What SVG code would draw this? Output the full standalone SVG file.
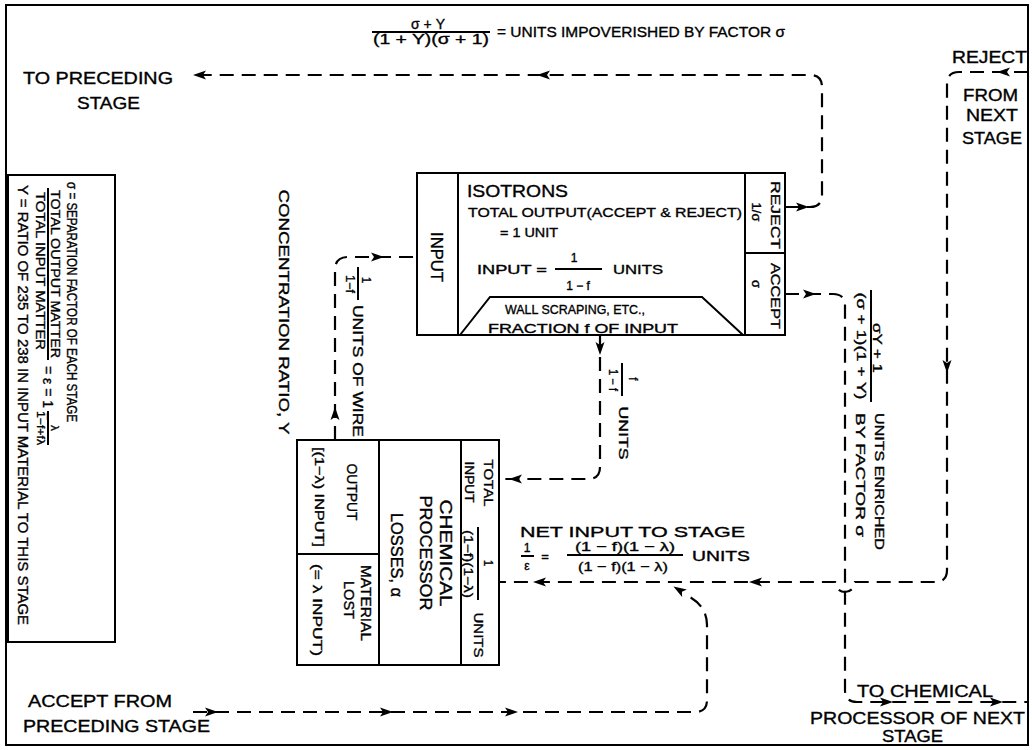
<svg xmlns="http://www.w3.org/2000/svg" width="1032" height="750" viewBox="0 0 1032 750">
<style>
.t{font-family:"Liberation Sans",Arial,sans-serif;fill:#000;stroke:#000;stroke-width:0.35}
.ln{fill:none;stroke:#000;stroke-width:2}
.dl{fill:none;stroke:#000;stroke-width:2.2;stroke-dasharray:14 8}
</style>
<defs>
<path id="ah" d="M3,0 L-10,-4.5 L-7,0 L-10,4.5 Z" fill="#000"/>
</defs>
<rect width="1032" height="750" fill="#fff"/>
<rect id="frame" x="6" y="5" width="1022" height="740" class="ln"/>

<g id="legend">
<rect x="8" y="175" width="107" height="467" class="ln"/>
<text class="t" font-size="14" text-anchor="middle" transform="translate(67,302) rotate(90)" textLength="240" lengthAdjust="spacingAndGlyphs">σ = SEPARATION FACTOR OF EACH STAGE</text>
<text class="t" font-size="13" text-anchor="middle" transform="translate(51,274) rotate(90)" textLength="168" lengthAdjust="spacingAndGlyphs">TOTAL OUTPUT MATTER</text>
<line x1="48" y1="188" x2="48" y2="360" class="ln" stroke-width="1.5"/>
<text class="t" font-size="13" text-anchor="middle" transform="translate(36,271) rotate(90)" textLength="158" lengthAdjust="spacingAndGlyphs">TOTAL INPUT MATTER</text>
<text class="t" font-size="14" transform="translate(43,366) rotate(90)">= ε = 1 −</text>
<text class="t" font-size="11" text-anchor="middle" transform="translate(51,428) rotate(90)">λ</text>
<line x1="48" y1="411" x2="48" y2="445" class="ln" stroke-width="1.5"/>
<text class="t" font-size="11" text-anchor="middle" transform="translate(37,428) rotate(90)" textLength="34" lengthAdjust="spacingAndGlyphs">1−f+fλ</text>
<text class="t" font-size="14" text-anchor="middle" transform="translate(18,405) rotate(90)" textLength="440" lengthAdjust="spacingAndGlyphs">Y = RATIO OF 235 TO 238 IN INPUT MATERIAL TO THIS STAGE</text>
</g>

<g id="isotrons">
<rect x="417" y="173" width="368" height="162" class="ln"/>
<line x1="458" y1="173" x2="458" y2="335" class="ln"/>
<line x1="745" y1="173" x2="745" y2="335" class="ln"/>
<line x1="745" y1="253" x2="785" y2="253" class="ln"/>
<polyline points="460,335 490,297 702,297 743,335" class="ln"/>
<text class="t" font-size="16" text-anchor="middle" transform="translate(431,257) rotate(90)" textLength="50" lengthAdjust="spacingAndGlyphs">INPUT</text>
<text class="t" x="467" y="197" font-size="17" textLength="101" lengthAdjust="spacingAndGlyphs">ISOTRONS</text>
<text class="t" x="468" y="217" font-size="13.5" textLength="274" lengthAdjust="spacingAndGlyphs">TOTAL OUTPUT(ACCEPT &amp; REJECT)</text>
<text class="t" x="500" y="237" font-size="13" textLength="58" lengthAdjust="spacingAndGlyphs">= 1 UNIT</text>
<text class="t" x="477" y="274" font-size="13" textLength="70" lengthAdjust="spacingAndGlyphs">INPUT =</text>
<text class="t" x="574" y="262" font-size="12" text-anchor="middle">1</text>
<line x1="555" y1="269" x2="602" y2="269" class="ln" stroke-width="1.5"/>
<text class="t" x="578" y="290" font-size="12" text-anchor="middle">1 − f</text>
<text class="t" x="613" y="274" font-size="13" textLength="50" lengthAdjust="spacingAndGlyphs">UNITS</text>
<text class="t" x="505" y="314" font-size="13" textLength="140" lengthAdjust="spacingAndGlyphs">WALL SCRAPING, ETC.,</text>
<text class="t" x="488" y="333" font-size="13" textLength="190" lengthAdjust="spacingAndGlyphs">FRACTION f OF INPUT</text>
<text class="t" font-size="13" text-anchor="middle" transform="translate(771,215) rotate(90)" textLength="68" lengthAdjust="spacingAndGlyphs">REJECT</text>
<text class="t" font-size="13" text-anchor="middle" transform="translate(752,212) rotate(90)">1/σ</text>
<text class="t" font-size="13" text-anchor="middle" transform="translate(771,296) rotate(90)" textLength="66" lengthAdjust="spacingAndGlyphs">ACCEPT</text>
<text class="t" font-size="13" text-anchor="middle" transform="translate(752,284) rotate(90)">σ</text>
</g>

<g id="chem">
<rect x="297" y="440" width="202" height="225" class="ln"/>
<line x1="379" y1="440" x2="379" y2="665" class="ln"/>
<line x1="461" y1="440" x2="461" y2="665" class="ln"/>
<line x1="297" y1="554" x2="379" y2="554" class="ln"/>
<text class="t" font-size="15" text-anchor="middle" transform="translate(347,492) rotate(90)" textLength="57" lengthAdjust="spacingAndGlyphs">OUTPUT</text>
<text class="t" font-size="13" text-anchor="middle" transform="translate(315,497) rotate(90)" textLength="100" lengthAdjust="spacingAndGlyphs">[(1−λ) INPUT]</text>
<text class="t" font-size="14" text-anchor="middle" transform="translate(361,603) rotate(90)" textLength="76" lengthAdjust="spacingAndGlyphs">MATERIAL</text>
<text class="t" font-size="14" text-anchor="middle" transform="translate(344,600) rotate(90)" textLength="38" lengthAdjust="spacingAndGlyphs">LOST</text>
<text class="t" font-size="13" text-anchor="middle" transform="translate(313,610) rotate(90)" textLength="92" lengthAdjust="spacingAndGlyphs">(= λ INPUT)</text>
<text class="t" font-size="16" text-anchor="middle" transform="translate(440,553) rotate(90)" textLength="107" lengthAdjust="spacingAndGlyphs">CHEMICAL</text>
<text class="t" font-size="16" text-anchor="middle" transform="translate(420,553) rotate(90)" textLength="115" lengthAdjust="spacingAndGlyphs">PROCESSOR</text>
<text class="t" font-size="16" text-anchor="middle" transform="translate(391,555) rotate(90)" textLength="84" lengthAdjust="spacingAndGlyphs">LOSSES, α</text>
<text class="t" font-size="12" text-anchor="middle" transform="translate(484,483) rotate(90)" textLength="47" lengthAdjust="spacingAndGlyphs">TOTAL</text>
<text class="t" font-size="12" text-anchor="middle" transform="translate(465,482) rotate(90)" textLength="41" lengthAdjust="spacingAndGlyphs">INPUT</text>
<text class="t" font-size="12" text-anchor="middle" transform="translate(484,563) rotate(90)">1</text>
<line x1="478" y1="527" x2="478" y2="600" class="ln" stroke-width="1.5"/>
<text class="t" font-size="12" text-anchor="middle" transform="translate(464,564) rotate(90)" textLength="68" lengthAdjust="spacingAndGlyphs">(1−f)(1−λ)</text>
<text class="t" font-size="12" text-anchor="middle" transform="translate(474,635) rotate(90)" textLength="45" lengthAdjust="spacingAndGlyphs">UNITS</text>
</g>

<g id="connectors">
<path class="dl" d="M785,207 H810 Q822,207 822,195 V87 Q822,75 810,75 H195"/>
<path class="dl" d="M785,294 H833 Q845,294 845,306 V690 Q845,702 857,702 H1028"/>
<path class="dl" d="M1028,72 H959 Q947,72 947,84 V570 Q947,582 935,582 H855 A10,10 0 0 1 835,582 H499"/>
<path class="dl" d="M193,712 H695 Q707,712 707,700 V625 Q707,606 688,596"/>
<path class="dl" d="M600,335 V467 Q600,479 588,479 H499"/>
<path class="dl" d="M335,440 V270 Q335,257 348,257 H417"/>
<use href="#ah" transform="translate(806,207)"/>
<use href="#ah" transform="translate(196,75) rotate(180)"/>
<use href="#ah" transform="translate(540,75) rotate(180)"/>
<use href="#ah" transform="translate(813,294)"/>
<use href="#ah" transform="translate(890,702)"/>
<use href="#ah" transform="translate(1000,702)"/>
<use href="#ah" transform="translate(1000,72) rotate(180)"/>
<use href="#ah" transform="translate(947,370) rotate(90)"/>
<use href="#ah" transform="translate(752,582) rotate(180)"/>
<use href="#ah" transform="translate(536,582) rotate(180)"/>
<use href="#ah" transform="translate(676,588) rotate(-148)"/>
<use href="#ah" transform="translate(215,712)"/>
<use href="#ah" transform="translate(390,712)"/>
<use href="#ah" transform="translate(515,712)"/>
<use href="#ah" transform="translate(600,352) rotate(90)"/>
<use href="#ah" transform="translate(512,479) rotate(180)"/>
<use href="#ah" transform="translate(335,410) rotate(-90)"/>
<use href="#ah" transform="translate(381,257)"/>
</g>

<g id="labels">
<text class="t" x="428" y="29" font-size="14" text-anchor="middle">σ + Y</text>
<line x1="372" y1="32" x2="490" y2="32" class="ln" stroke-width="1.5"/>
<text class="t" x="431" y="44" font-size="14" text-anchor="middle" textLength="116" lengthAdjust="spacingAndGlyphs">(1 + Y)(σ + 1)</text>
<text class="t" x="497" y="37" font-size="15" textLength="288" lengthAdjust="spacingAndGlyphs">= UNITS IMPOVERISHED BY FACTOR σ</text>
<text class="t" x="23" y="84" font-size="17" textLength="150" lengthAdjust="spacingAndGlyphs">TO PRECEDING</text>
<text class="t" x="77" y="109" font-size="17" textLength="63" lengthAdjust="spacingAndGlyphs">STAGE</text>
<text class="t" x="952" y="63" font-size="16" textLength="75" lengthAdjust="spacingAndGlyphs">REJECT</text>
<text class="t" x="963" y="101" font-size="17" textLength="55" lengthAdjust="spacingAndGlyphs">FROM</text>
<text class="t" x="966" y="121" font-size="17" textLength="52" lengthAdjust="spacingAndGlyphs">NEXT</text>
<text class="t" x="962" y="144" font-size="17" textLength="60" lengthAdjust="spacingAndGlyphs">STAGE</text>
<text class="t" font-size="12" text-anchor="middle" transform="translate(629,379) rotate(90)">f</text>
<line x1="622" y1="363" x2="622" y2="396" class="ln" stroke-width="1.5"/>
<text class="t" font-size="12" text-anchor="middle" transform="translate(609,380) rotate(90)" textLength="22" lengthAdjust="spacingAndGlyphs">1 − f</text>
<text class="t" font-size="13" text-anchor="middle" transform="translate(619,433) rotate(90)" textLength="53" lengthAdjust="spacingAndGlyphs">UNITS</text>
<text class="t" font-size="12" text-anchor="middle" transform="translate(362,280) rotate(90)">1</text>
<line x1="358" y1="267" x2="358" y2="300" class="ln" stroke-width="1.5"/>
<text class="t" font-size="12" text-anchor="middle" transform="translate(346,284) rotate(90)" textLength="18" lengthAdjust="spacingAndGlyphs">1−f</text>
<text class="t" font-size="14" transform="translate(353,305) rotate(90)" textLength="132" lengthAdjust="spacingAndGlyphs">UNITS OF WIRE</text>
<text class="t" font-size="14" text-anchor="middle" transform="translate(279,312) rotate(90)" textLength="245" lengthAdjust="spacingAndGlyphs">CONCENTRATION RATIO, Y</text>
<text class="t" font-size="13" text-anchor="middle" transform="translate(873,348) rotate(90)" textLength="50" lengthAdjust="spacingAndGlyphs">σY + 1</text>
<line x1="871" y1="290" x2="871" y2="402" class="ln" stroke-width="1.5"/>
<text class="t" font-size="13" text-anchor="middle" transform="translate(857,346) rotate(90)" textLength="107" lengthAdjust="spacingAndGlyphs">(σ + 1)(1 + Y)</text>
<text class="t" font-size="13" transform="translate(875,413) rotate(90)" textLength="137" lengthAdjust="spacingAndGlyphs">UNITS ENRICHED</text>
<text class="t" font-size="13" transform="translate(856,413) rotate(90)" textLength="124" lengthAdjust="spacingAndGlyphs">BY FACTOR σ</text>
<text class="t" x="520" y="537" font-size="15" textLength="225" lengthAdjust="spacingAndGlyphs">NET INPUT TO STAGE</text>
<text class="t" x="527" y="552" font-size="12" text-anchor="middle">1</text>
<line x1="521" y1="556" x2="534" y2="556" class="ln" stroke-width="1.5"/>
<text class="t" x="527" y="570" font-size="12" text-anchor="middle">ε</text>
<text class="t" x="545" y="561" font-size="13" text-anchor="middle">=</text>
<text class="t" x="625" y="551" font-size="13" text-anchor="middle" textLength="100" lengthAdjust="spacingAndGlyphs">(1 − f)(1 − λ)</text>
<line x1="567" y1="555" x2="683" y2="555" class="ln" stroke-width="1.5"/>
<text class="t" x="623" y="571" font-size="13" text-anchor="middle" textLength="90" lengthAdjust="spacingAndGlyphs">(1 − f)(1 − λ)</text>
<text class="t" x="692" y="561" font-size="14" textLength="58" lengthAdjust="spacingAndGlyphs">UNITS</text>
<text class="t" x="28" y="707" font-size="17" textLength="144" lengthAdjust="spacingAndGlyphs">ACCEPT FROM</text>
<text class="t" x="23" y="732" font-size="17" textLength="187" lengthAdjust="spacingAndGlyphs">PRECEDING STAGE</text>
<text class="t" x="857" y="697" font-size="17" textLength="136" lengthAdjust="spacingAndGlyphs">TO CHEMICAL</text>
<text class="t" x="810" y="724" font-size="17" textLength="215" lengthAdjust="spacingAndGlyphs">PROCESSOR OF NEXT</text>
<text class="t" x="882" y="742" font-size="17" textLength="61" lengthAdjust="spacingAndGlyphs">STAGE</text>
</g>
</svg>
